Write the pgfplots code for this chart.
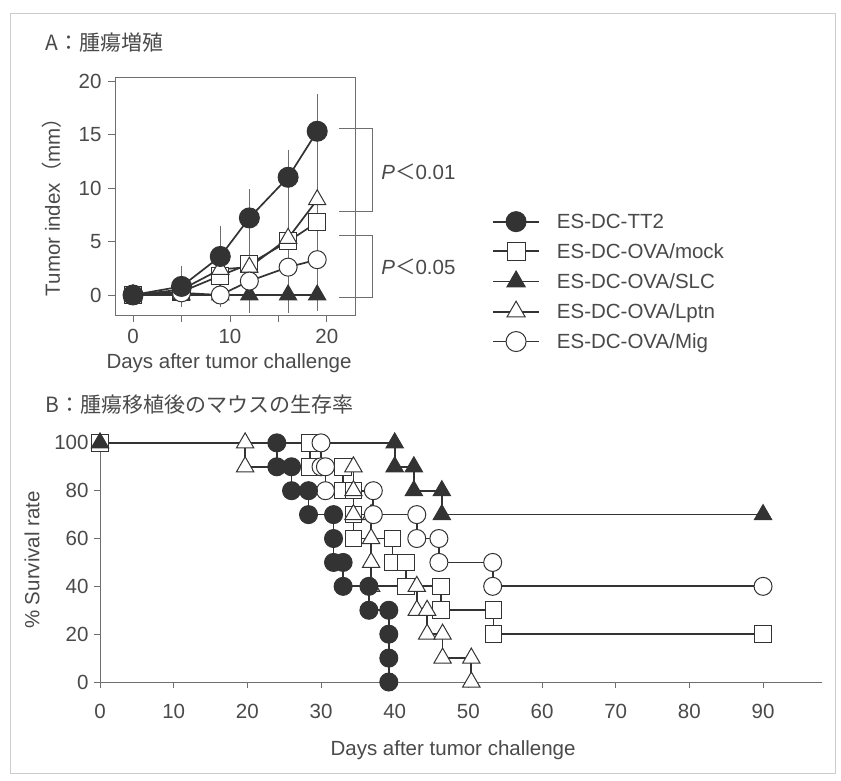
\documentclass[border=0pt]{standalone}
\usepackage{fontspec}
\setmainfont{Liberation Sans}
\newfontfamily\cjk{Noto Sans CJK JP}
\usepackage{pgfplots}
\usepackage{pgfplotstable}
\pgfplotsset{compat=1.18}
\definecolor{tx}{HTML}{4A4A4A}
\definecolor{ln}{HTML}{333333}
\definecolor{ax}{HTML}{6E6E6E}
\newcommand{\fs}{\fontsize{20.5}{24}\selectfont}

\pgfplotstableread{
d tt2 ett2 mock emock slc eslc lptn elptn mig emig
0  0    0   0   0   0 0 0   0   0   0
5  0.8  1.6 0.3 0.8 0 0 0.5 0.6 0.2 0.4
9  3.6  2.6 1.8 1.5 0 0 2.4 1.4 0   0.8
12 7.2  2.4 2.9 2.0 0 0 2.6 2.5 1.3 2.7
16 11.0 2.3 5.0 3.0 0 0 5.3 3.0 2.6 4.0
19 15.3 3.2 6.8 4.0 0 0 8.9 3.1 3.3 4.5
}\tumor

\pgfplotstableread{
x y
0 100
24 100
24 90
26 90
26 80
28.3 80
28.3 70
31.7 70
31.7 60
31.7 50
33 50
33 40
36.5 40
36.5 30
39.2 30
39.2 20
39.2 10
39.2 0
}\stt

\pgfplotstableread{
x y
0 100
28.5 100
28.5 90
33 90
33 80
34.4 80
34.4 70
34.4 60
39.7 60
39.7 50
41.5 50
41.5 40
46.3 40
46.3 30
53.4 30
53.4 20
90 20
}\smock

\pgfplotstableread{
x y
0 100
40 100
40 90
42.6 90
42.6 80
46.4 80
46.4 70
90 70
}\sslc

\pgfplotstableread{
x y
0 100
19.7 100
19.7 90
34.4 90
34.4 80
34.4 70
36.8 70
36.8 60
36.8 50
36.8 40
43 40
43 30
44.4 30
44.4 20
46.5 20
46.5 10
50.4 10
50.4 0
}\slptn

\pgfplotstableread{
x y
0 100
30 100
30 90
30.6 90
30.6 80
37.1 80
37.1 70
43 70
43 60
46 60
46 50
53.3 50
53.3 40
90 40
}\smig

\pgfplotsset{
  sTT/.style={color=ln, line width=1.7pt, mark=*, mark options={solid, fill=ln, draw=ln, line width=1pt}},
  sMO/.style={color=ln, line width=1.7pt, mark=square*, mark options={solid, fill=white, draw=ln, line width=1pt}},
  sSL/.style={color=ln, line width=1.7pt, mark=triangle*, mark options={solid, fill=ln, draw=ln, line width=1pt}},
  sLP/.style={color=ln, line width=1.7pt, mark=triangle*, mark options={solid, fill=white, draw=ln, line width=1pt}},
  sMI/.style={color=ln, line width=1.7pt, mark=*, mark options={solid, fill=white, draw=ln, line width=1pt}},
  eb/.style={error bars/.cd, y dir=both, y explicit, error mark=-,
     error bar style={line width=0.6pt, color=ax},
     error mark options={line width=0.6pt, color=ax, mark size=3pt}},
}

\begin{document}
\begin{tikzpicture}
\path[use as bounding box] (0,0) rectangle (841pt,780pt);
\fill[white] (0,0) rectangle (841pt,780pt);
\draw[gray!40, line width=0.8pt] (10pt,7pt) rectangle (835pt,767pt);

\node[anchor=west, text=tx, font=\cjk\fontsize{21}{24}\selectfont] at (42pt,737pt) {A：腫瘍増殖};
\node[anchor=west, text=tx, font=\cjk\fontsize{21}{24}\selectfont] at (42pt,375pt) {B：腫瘍移植後のマウスの生存率};

% ---------- Panel A ----------
\begin{axis}[
  at={(115pt,465pt)}, anchor=south west,
  width=240pt, height=238pt, scale only axis,
  xmin=-1.86, xmax=22.9, ymin=-1.87, ymax=20.37,
  xtick={0,10,20}, minor xtick={5,15}, ytick={0,5,...,20},
  tick align=outside, tick pos=left,
  major tick length=7pt, minor tick length=7pt,
  axis line style={ax, line width=0.9pt},
  every tick/.style={ax, line width=0.9pt},
  /pgf/number format/assume math mode=true,
  ticklabel style={font=\fs, text=tx},
  xticklabel style={yshift=-6pt, inner sep=1pt},
  yticklabel style={xshift=-3pt},
  xlabel={Days after tumor challenge},
  xlabel style={at={(axis description cs:0.475,-0.203)}, anchor=center, font=\fs, text=tx, inner sep=1pt},
  ylabel={Tumor index{\cjk （}mm{\cjk ）}},
  ylabel style={at={(axis description cs:-0.262,0.475)}, anchor=center, font=\fs, text=tx},
  clip=false,
  legend image code/.code={\draw[mark repeat=2,mark phase=2,#1] plot coordinates {(0pt,0pt) (23pt,0pt) (46pt,0pt)};},
  legend style={draw=none, fill=none, inner sep=0pt, at={(1.571,0.435)}, anchor=north west,
     font=\fs, text=tx, row sep=9.5pt,
     /tikz/every odd column/.append style={column sep=15pt}},
  legend cell align=left,
]
\addplot[sMO, mark size=8.5pt, forget plot, eb] table[x=d, y=mock, y error=emock] {\tumor};
\addplot[sSL, mark size=10pt, forget plot, eb] table[x=d, y=slc, y error=eslc] {\tumor};
\addplot[sLP, mark size=10pt, forget plot, eb] table[x=d, y=lptn, y error=elptn] {\tumor};
\addplot[sMI, mark size=9pt, forget plot, eb] table[x=d, y=mig, y error=emig] {\tumor};
\addplot[sTT, mark size=10pt, forget plot, eb] table[x=d, y=tt2, y error=ett2] {\tumor};

\addlegendimage{sTT, mark size=10pt}\addlegendentry{ES-DC-TT2}
\addlegendimage{sMO, mark size=9pt}\addlegendentry{ES-DC-OVA/mock}
\addlegendimage{sSL, mark size=10.5pt}\addlegendentry{ES-DC-OVA/SLC}
\addlegendimage{sLP, mark size=10.5pt}\addlegendentry{ES-DC-OVA/Lptn}
\addlegendimage{sMI, mark size=10pt}\addlegendentry{ES-DC-OVA/Mig}

\draw[ax, line width=0.9pt] (axis cs:21.3,15.6) -| (axis cs:24.7,7.76) -- (axis cs:21.3,7.76);
\draw[ax, line width=0.9pt] (axis cs:21.3,5.6) -| (axis cs:24.7,-0.19) -- (axis cs:21.3,-0.19);
\node[anchor=west, text=tx, font=\fs, inner sep=0pt] at (axis cs:25.6,11.5) {\textit{P}{\cjk ＜}0.01};
\node[anchor=west, text=tx, font=\fs, inner sep=0pt] at (axis cs:25.6,2.6) {\textit{P}{\cjk ＜}0.05};
\end{axis}

% ---------- Panel B ----------
\begin{axis}[
  at={(100pt,98pt)}, anchor=south west,
  width=722pt, height=242pt, scale only axis,
  xmin=0, xmax=98, ymin=0, ymax=101.2,
  axis x line*=bottom, axis y line*=left,
  xtick={0,10,...,90}, ytick={0,20,...,100},
  tick align=outside, major tick length=6pt,
  axis line style={ax, line width=0.9pt},
  every tick/.style={ax, line width=0.9pt},
  /pgf/number format/assume math mode=true,
  ticklabel style={font=\fs, text=tx},
  xticklabel style={yshift=-13pt},
  yticklabel style={xshift=-2pt},
  xlabel={Days after tumor challenge},
  xlabel style={at={(axis description cs:0.489,-0.281)}, anchor=center, font=\fs, text=tx},
  ylabel={\% Survival rate},
  ylabel style={at={(axis description cs:-0.094,0.504)}, anchor=center, font=\fs, text=tx},
  clip=false,
]
\addplot[sMO, mark size=8.3pt] table[x=x, y=y] {\smock};
\addplot[sSL, mark size=10pt] table[x=x, y=y] {\sslc};
\addplot[sLP, mark size=10pt, mark phase=2, mark repeat=1] table[x=x, y=y] {\slptn};
\addplot[sMI, mark size=9pt, mark phase=2, mark repeat=1] table[x=x, y=y] {\smig};
\addplot[sTT, mark size=9pt, mark phase=2, mark repeat=1] table[x=x, y=y] {\stt};
\end{axis}
\end{tikzpicture}
\end{document}
